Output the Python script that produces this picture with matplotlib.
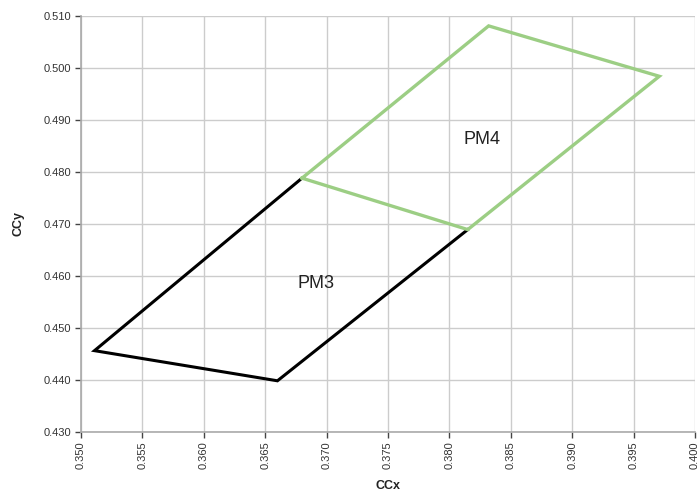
import matplotlib
matplotlib.use("Agg")
import matplotlib.pyplot as plt

# PM3 outline (the shared edge with PM4 is drawn in green)
pm3_x = [0.3680, 0.3511, 0.3660, 0.3815]
pm3_y = [0.4788, 0.4456, 0.4398, 0.4689]
# PM4 outline (closed)
pm4_x = [0.3680, 0.3832, 0.3971, 0.3815, 0.3680]
pm4_y = [0.4788, 0.5081, 0.4984, 0.4689, 0.4788]

labels = ["PM3", "PM4"]
label_pos = [(0.3691, 0.4586), (0.3827, 0.4863)]

x_ticks = [0.350, 0.355, 0.360, 0.365, 0.370, 0.375, 0.380, 0.385, 0.390, 0.395, 0.400]
y_ticks = [0.430, 0.440, 0.450, 0.460, 0.470, 0.480, 0.490, 0.500, 0.510]

plt.rcParams['font.family'] = ['Liberation Sans', 'DejaVu Sans']

fig = plt.figure(figsize=(6.97, 4.96), dpi=100)
ax = fig.add_axes([0.1162, 0.1296, 0.8808, 0.8381])

ax.plot(pm3_x, pm3_y, color='black', linewidth=2.2, solid_joinstyle='miter', zorder=3)
ax.plot(pm4_x, pm4_y, color='#9cce84', linewidth=2.4, solid_joinstyle='miter', zorder=4)

for txt, (lx, ly) in zip(labels, label_pos):
    ax.text(lx, ly, txt, fontsize=13, color='#222222', ha='center', va='center')

ax.set_xlim(0.350, 0.400)
ax.set_ylim(0.430, 0.510)
ax.set_xticks(x_ticks)
ax.set_yticks(y_ticks)
ax.set_xticklabels([f"{v:.3f}" for v in x_ticks], rotation=90)
ax.set_yticklabels([f"{v:.3f}" for v in y_ticks])
ax.tick_params(labelsize=8, colors='#444444', length=4, width=1, pad=3)
for lbl in ax.get_xticklabels() + ax.get_yticklabels():
    lbl.set_color('#333333')

ax.grid(True, color='#cccccc', linewidth=1)
ax.set_axisbelow(True)
for side in ['top', 'right']:
    ax.spines[side].set_visible(False)
for side in ['left', 'bottom']:
    ax.spines[side].set_color('#aaaaaa')
    ax.spines[side].set_linewidth(1.2)

ax.set_xlabel("CCx", fontsize=9, fontweight='bold', color='#222222', labelpad=8)
ax.set_ylabel("CCy", fontsize=9, fontweight='bold', color='#222222', labelpad=14)

fig.savefig("out.png", dpi=100)
